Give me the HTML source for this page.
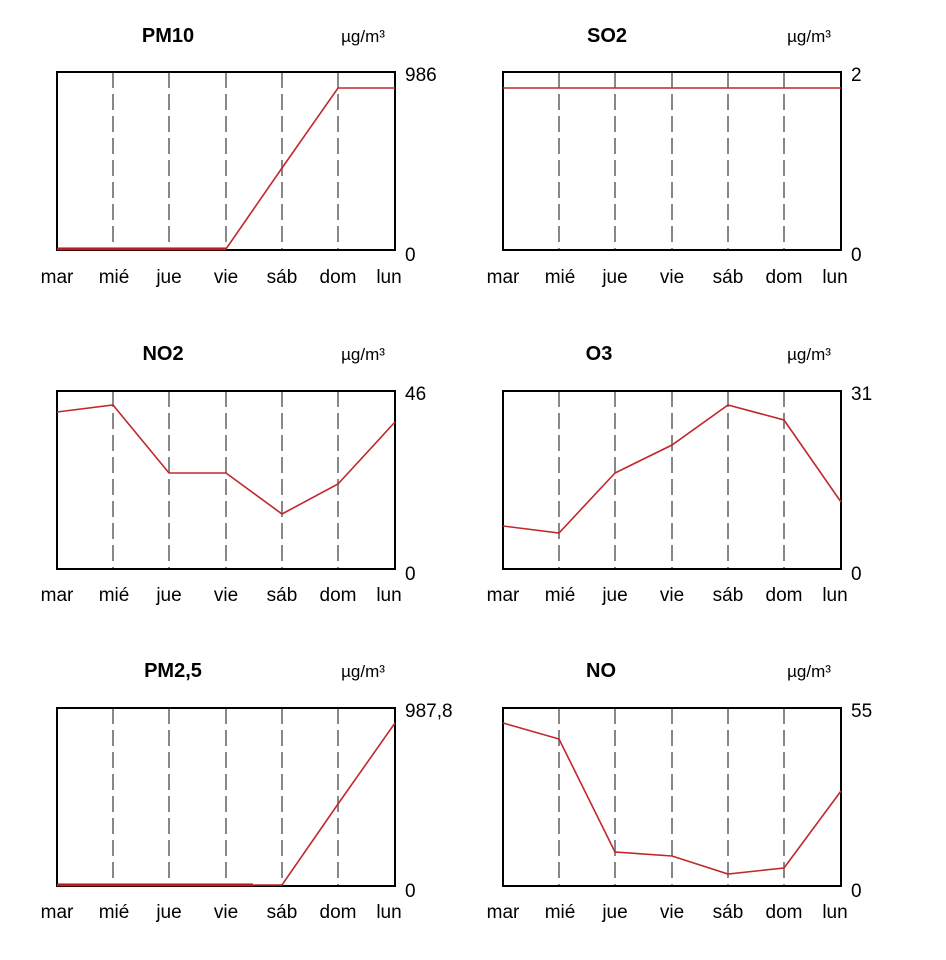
<!DOCTYPE html>
<html><head><meta charset="utf-8"><style>
html,body{margin:0;padding:0;background:#fff;}
svg{display:block;}
text{font-family:"Liberation Sans",Arial,sans-serif;font-size:19px;fill:#000;}
.t{font-weight:bold;font-size:20px;}
.u{font-size:17px;}
.g{stroke:#888;stroke-width:2;stroke-dasharray:16,6;}
.b{fill:none;stroke:#000;stroke-width:2;}
.l{fill:none;stroke:#c0282c;stroke-width:1.6;}
.d{fill:none;stroke:#8a1010;stroke-width:3;}
</style></head><body>
<svg width="946" height="960" viewBox="0 0 946 960">
<defs>
<g id="grid">
<line class="g" x1="113" y1="0" x2="113" y2="178"/>
<line class="g" x1="169" y1="0" x2="169" y2="178"/>
<line class="g" x1="226" y1="0" x2="226" y2="178"/>
<line class="g" x1="282" y1="0" x2="282" y2="178"/>
<line class="g" x1="338" y1="0" x2="338" y2="178"/>
<rect class="b" x="57" y="0" width="338" height="178"/>
</g>
<g id="days">
<text x="57" y="0" text-anchor="middle">mar</text>
<text x="114" y="0" text-anchor="middle">mié</text>
<text x="169" y="0" text-anchor="middle">jue</text>
<text x="226" y="0" text-anchor="middle">vie</text>
<text x="282" y="0" text-anchor="middle">sáb</text>
<text x="338" y="0" text-anchor="middle">dom</text>
<text x="389" y="0" text-anchor="middle">lun</text>
</g>
</defs>

<!-- Row 1 -->
<g transform="translate(0,0)">
<text class="t" x="168" y="42" text-anchor="middle">PM10</text>
<text class="u" x="363" y="42" text-anchor="middle">µg/m³</text>
<g transform="translate(0,72)"><use href="#grid"/></g>
<polyline class="d" points="57,249 226,249"/>
<polyline class="l" points="57,249 113,249 169,249 226,249 282,168 338,88 395,88"/>
<text x="405" y="81">986</text>
<text x="405" y="261">0</text>
<g transform="translate(0,283)"><use href="#days"/></g>
</g>
<g transform="translate(446,0)">
<text class="t" x="161" y="42" text-anchor="middle">SO2</text>
<text class="u" x="363" y="42" text-anchor="middle">µg/m³</text>
<g transform="translate(0,72)"><use href="#grid"/></g>
<polyline class="l" points="57,88 395,88"/>
<text x="405" y="81">2</text>
<text x="405" y="261">0</text>
<g transform="translate(0,283)"><use href="#days"/></g>
</g>

<!-- Row 2 -->
<g transform="translate(0,0)">
<text class="t" x="163" y="360" text-anchor="middle">NO2</text>
<text class="u" x="363" y="360" text-anchor="middle">µg/m³</text>
<g transform="translate(0,391)"><use href="#grid"/></g>
<polyline class="l" points="57,412 113,405 169,473 226,473 282,514 338,484 395,422"/>
<text x="405" y="400">46</text>
<text x="405" y="580">0</text>
<g transform="translate(0,601)"><use href="#days"/></g>
</g>
<g transform="translate(446,0)">
<text class="t" x="153" y="360" text-anchor="middle">O3</text>
<text class="u" x="363" y="360" text-anchor="middle">µg/m³</text>
<g transform="translate(0,391)"><use href="#grid"/></g>
<polyline class="l" points="57,526 113,533 169,473 226,445 282,405 338,420 395,502"/>
<text x="405" y="400">31</text>
<text x="405" y="580">0</text>
<g transform="translate(0,601)"><use href="#days"/></g>
</g>

<!-- Row 3 -->
<g transform="translate(0,0)">
<text class="t" x="173" y="677" text-anchor="middle">PM2,5</text>
<text class="u" x="363" y="677" text-anchor="middle">µg/m³</text>
<g transform="translate(0,708)"><use href="#grid"/></g>
<polyline class="d" points="57,885 253,885"/>
<polyline class="l" points="57,885 282,885 338,804 395,723"/>
<text x="405" y="717">987,8</text>
<text x="405" y="897">0</text>
<g transform="translate(0,918)"><use href="#days"/></g>
</g>
<g transform="translate(446,0)">
<text class="t" x="155" y="677" text-anchor="middle">NO</text>
<text class="u" x="363" y="677" text-anchor="middle">µg/m³</text>
<g transform="translate(0,708)"><use href="#grid"/></g>
<polyline class="l" points="57,723 113,739 169,852 226,856 282,874 338,868 395,791"/>
<text x="405" y="717">55</text>
<text x="405" y="897">0</text>
<g transform="translate(0,918)"><use href="#days"/></g>
</g>
</svg>
</body></html>
